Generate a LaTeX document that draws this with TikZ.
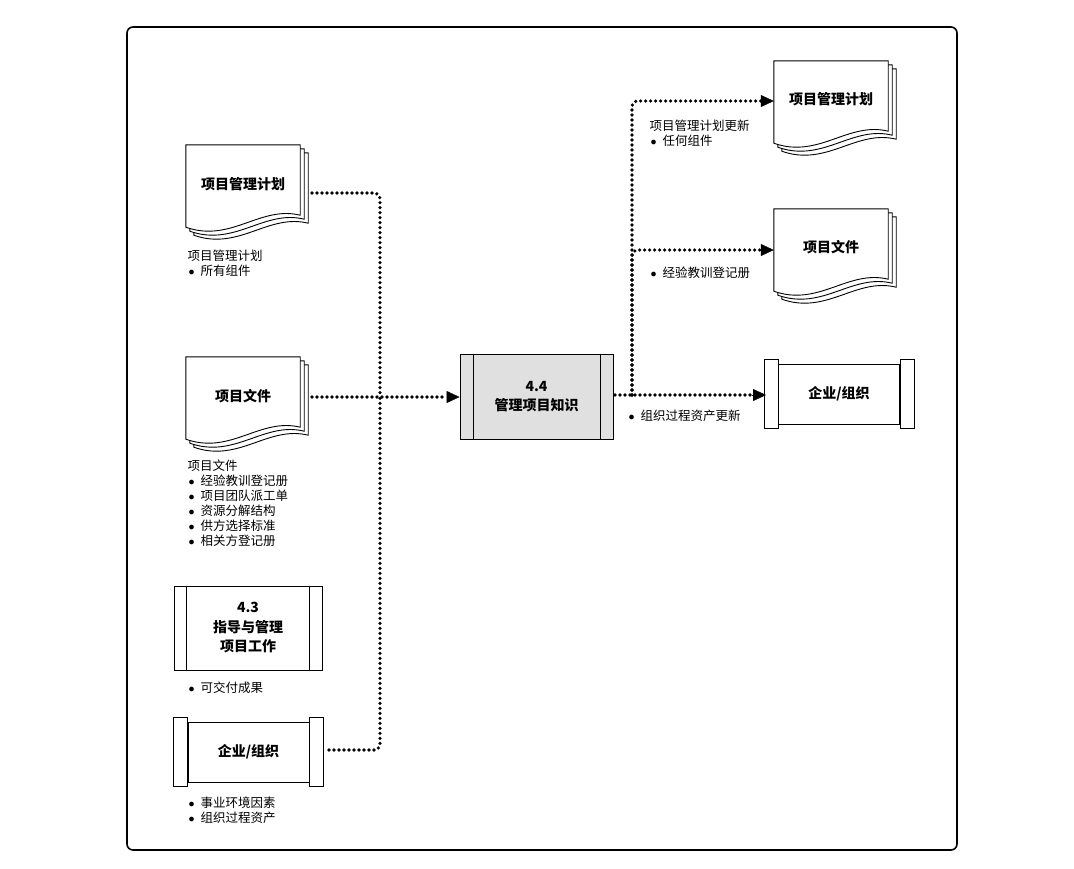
\documentclass[tikz,border=0pt]{standalone}
\usepackage{fontspec}
\setmainfont{Noto Sans CJK SC}
\usetikzlibrary{arrows.meta}

% three stacked pages with a wavy bottom, behind node #1
\newcommand{\docpages}[1]{%
  \foreach \o in {8,4,0}{%
    \draw[fill=white, line width=0.9pt] ([shift={(\o,\o)}]#1.north west) -- ([shift={(\o,\o)}]#1.north east)
      -- ([shift={(\o,\o-12)}]#1.south east)
      .. controls ([shift={(\o-40,\o-22)}]#1.south east) and ([shift={(\o+45,\o+16)}]#1.south west) .. ([shift={(\o,\o)}]#1.south west)
      -- cycle;}}
% scroll box with end tabs
\newcommand{\scrollbox}[1]{%
  \draw[fill=white, line width=0.9pt] ([shift={(-14,4)}]#1.south west) rectangle ([shift={(0,-4)}]#1.north west);
  \draw[fill=white, line width=0.9pt] ([shift={(0,4)}]#1.south east) rectangle ([shift={(14,-4)}]#1.north east);}
\newcommand{\bul}{\hspace{1pt}$\bullet$\hspace{6pt}}

\begin{document}
\begin{tikzpicture}[x=1pt, y=-1pt,
  doc/.style={minimum width=114pt, minimum height=82pt, inner sep=0pt, font=\fontsize{14}{16}\selectfont\bfseries},
  proc/.style={draw, line width=0.9pt, minimum width=153pt, minimum height=85pt, align=center, font=\fontsize{14}{19.5}\selectfont\bfseries},
  org/.style={draw, fill=white, line width=0.9pt, minimum width=121pt, minimum height=60pt, font=\fontsize{14}{16}\selectfont\bfseries},
  lbl/.style={anchor=west, align=left, font=\fontsize{12.5}{16}\selectfont},
  flow/.style={line width=3.6pt, dash pattern=on 0pt off 5pt, line cap=round, rounded corners=6pt},
  tip/.style={-{Triangle[length=13pt, width=12pt]}}]
\useasboundingbox (0,0) rectangle (1074,868);
\draw[line width=1.6pt, rounded corners=6pt] (127,27) rectangle (957,850);

% inputs
\node[doc] (pmpIn) at (243,186) {};
\docpages{pmpIn}
\node[doc] at (243,184) {项目管理计划};
\node[lbl] (pmpInL) at (184,263) {项目管理计划\\[-1pt]\bul 所有组件};

\node[doc] (docsIn) at (243,398) {};
\docpages{docsIn}
\node[doc] at (243,396) {项目文件};
\node[lbl] (docsInL) at (184,503) {项目文件\\[-1pt]\bul 经验教训登记册\\[-1pt]\bul 项目团队派工单\\[-1pt]\bul 资源分解结构\\[-1pt]\bul 供方选择标准\\[-1pt]\bul 相关方登记册};

\node[proc, minimum width=148pt, minimum height=84pt] (work) at (248,628) {4.3\\指导与管理\\项目工作};
\draw[line width=0.9pt] ([xshift=13pt]work.north west) -- ([xshift=13pt]work.south west);
\draw[line width=0.9pt] ([xshift=-13pt]work.north east) -- ([xshift=-13pt]work.south east);
\node[lbl] (workL) at (184,688) {\bul 可交付成果};

\node[org] (orgIn) at (248.5,752) {企业/组织};
\scrollbox{orgIn}
\node[lbl] (orgInL) at (184,810) {\bul 事业环境因素\\[-1pt]\bul 组织过程资产};

% process
\node[proc, fill=black!12] (know) at (536.5,396.5) {4.4\\管理项目知识};
\draw[line width=0.9pt] ([xshift=14pt]know.north west) -- ([xshift=14pt]know.south west);
\draw[line width=0.9pt] ([xshift=-13pt]know.north east) -- ([xshift=-13pt]know.south east);

% outputs
\node[doc] (pmpOut) at (831,102) {};
\docpages{pmpOut}
\node[doc] at (831,99) {项目管理计划};
\node[lbl] (pmpOutL) at (646,133) {项目管理计划更新\\[-1pt]\bul 任何组件};

\node[doc] (docsOut) at (831,250) {};
\docpages{docsOut}
\node[doc] at (831,247) {项目文件};
\node[lbl] (docsOutL) at (646,273) {\bul 经验教训登记册};

\node[org] (orgOut) at (839,394) {企业/组织};
\scrollbox{orgOut}
\node[lbl] (orgOutL) at (624,416) {\bul 组织过程资产更新};

% connectors
\coordinate (joinIn) at (380,397);
\coordinate (joinOut) at (632,395);
\coordinate (pmpInE) at (312,193);
\coordinate (docsInE) at (312,397);
\coordinate (orgInE) at (329,750);
\coordinate (knowW) at (446,397);
\coordinate (knowE) at (615,395);
\coordinate (pmpOutW) at (761,101);
\coordinate (docsOutW) at (761,250);
\coordinate (orgOutW) at (750,395);
\draw[flow] (pmpInE) -| (joinIn);
\draw[flow] (orgInE) -| (joinIn);
\draw[flow] (docsInE) -- (knowW);
\draw[tip] ([xshift=2pt]knowW) -- (know.west |- knowW);
\draw[flow] (knowE) -- (orgOutW);
\draw[tip] ([xshift=2pt]orgOutW) -- ([xshift=16pt]orgOutW);
\draw[flow] (joinOut) |- (pmpOutW);
\draw[tip] ([xshift=2pt]pmpOutW) -- (pmpOut.west |- pmpOutW);
\draw[flow] (joinOut) |- (docsOutW);
\draw[tip] ([xshift=2pt]docsOutW) -- (docsOut.west |- docsOutW);
\end{tikzpicture}
\end{document}
